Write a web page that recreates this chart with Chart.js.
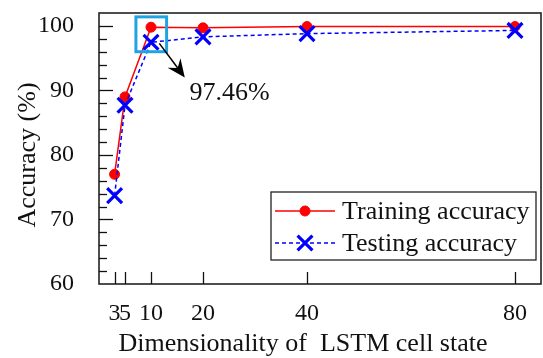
<!DOCTYPE html>
<html>
<head>
<meta charset="utf-8">
<script src="https://cdn.jsdelivr.net/npm/chart.js@4.4.1/dist/chart.umd.min.js"></script>
<style>
  html, body { margin: 0; padding: 0; background: #fff; }
  #wrap { width: 543px; height: 358px; }
</style>
</head>
<body>
<div id="wrap"><canvas id="acc"></canvas></div>
<script>
// LSTM cell state size vs. accuracy
const cellDims = [3, 5, 10, 20, 40, 80];
const trainAcc = [77.0, 89.0, 99.8, 99.7, 99.9, 99.9];
const testAcc = [73.7, 87.7, 97.46, 98.3, 98.8, 99.3];
const xTickValues = [3, 5, 10, 20, 40, 80];
const yTickValues = [60, 70, 80, 90, 100];
const highlightLabel = "97.46%";
const xTitle = "Dimensionality of  LSTM cell state";
const yTitle = "Accuracy (%)";

const serif = "'Liberation Serif', 'Times New Roman', serif";
const ink = "#111";

function points(xs, ys) {
  return xs.map((x, i) => ({ x: x, y: ys[i] }));
}

// frame, inward ticks, axis titles, highlight box + arrow, legend
const decorations = {
  id: "decorations",
  afterDatasetsDraw(chart) {
    const ctx = chart.ctx;
    const a = chart.chartArea;
    const xs = chart.scales.x;
    const ys = chart.scales.y;
    ctx.save();

    // frame
    ctx.strokeStyle = "#222";
    ctx.lineWidth = 1.6;
    ctx.strokeRect(a.left, a.top, a.right - a.left, a.bottom - a.top);

    // y ticks, major every 10 and minor every 2
    ctx.strokeStyle = ink;
    ctx.lineWidth = 1.3;
    for (let v = 62; v <= 100; v += 2) {
      const py = Math.round(ys.getPixelForValue(v)) + 0.5;
      const len = v % 10 === 0 ? 14 : 8;
      ctx.beginPath();
      ctx.moveTo(a.left, py);
      ctx.lineTo(a.left + len, py);
      ctx.stroke();
    }
    // x ticks
    xTickValues.forEach((v) => {
      const px = Math.round(xs.getPixelForValue(v)) + 0.5;
      ctx.beginPath();
      ctx.moveTo(px, a.bottom);
      ctx.lineTo(px, a.bottom - 12);
      ctx.stroke();
    });

    // axis titles
    ctx.fillStyle = ink;
    ctx.font = "26px " + serif;
    ctx.textAlign = "center";
    ctx.textBaseline = "alphabetic";
    ctx.fillText(xTitle, 303, 351);
    ctx.save();
    ctx.translate(28, 155);
    ctx.rotate(-Math.PI / 2);
    ctx.textBaseline = "middle";
    ctx.fillText(yTitle, 0, 0);
    ctx.restore();

    // highlight box around the 10-cell point
    const bx0 = xs.getPixelForValue(7.1);
    const bx1 = xs.getPixelForValue(13.0);
    const by0 = ys.getPixelForValue(101.4);
    const by1 = ys.getPixelForValue(96.0);
    ctx.strokeStyle = "#1fa3e3";
    ctx.lineWidth = 3;
    ctx.strokeRect(bx0, by0, bx1 - bx0, by1 - by0);

    // arrow to the label
    const ax0 = xs.getPixelForValue(11.6);
    const ay0 = ys.getPixelForValue(97.3);
    const ax1 = xs.getPixelForValue(16.5);
    const ay1 = ys.getPixelForValue(92.0);
    const ang = Math.atan2(ay1 - ay0, ax1 - ax0);
    ctx.strokeStyle = "#000";
    ctx.fillStyle = "#000";
    ctx.lineWidth = 1.5;
    ctx.beginPath();
    ctx.moveTo(ax0, ay0);
    ctx.lineTo(ax1 - 10 * Math.cos(ang), ay1 - 10 * Math.sin(ang));
    ctx.stroke();
    ctx.save();
    ctx.translate(ax1, ay1);
    ctx.rotate(ang);
    ctx.beginPath();
    ctx.moveTo(0, 0);
    ctx.lineTo(-18, -8);
    ctx.lineTo(-12, 0);
    ctx.lineTo(-18, 8);
    ctx.closePath();
    ctx.fill();
    ctx.restore();

    ctx.font = "26px " + serif;
    ctx.fillStyle = ink;
    ctx.textAlign = "left";
    ctx.textBaseline = "alphabetic";
    ctx.fillText(highlightLabel, xs.getPixelForValue(17.4), ys.getPixelForValue(88.5));

    // legend
    const lx0 = 271, ly0 = 192, lx1 = 536, ly1 = 260;
    ctx.fillStyle = "#fff";
    ctx.fillRect(lx0, ly0, lx1 - lx0, ly1 - ly0);
    ctx.strokeStyle = "#222";
    ctx.lineWidth = 1.3;
    ctx.strokeRect(lx0, ly0, lx1 - lx0, ly1 - ly0);
    const rows = [211, 243];
    chart.data.datasets
      .slice()
      .sort((p, q) => p.legendRow - q.legendRow)
      .forEach((ds, i) => {
        const ry = rows[i];
        ctx.strokeStyle = ds.borderColor;
        ctx.lineWidth = ds.borderWidth;
        ctx.setLineDash(ds.borderDash || []);
        ctx.beginPath();
        ctx.moveTo(275, ry);
        ctx.lineTo(335, ry);
        ctx.stroke();
        ctx.setLineDash([]);
        ctx.fillStyle = ds.pointBackgroundColor;
        ctx.strokeStyle = ds.pointBorderColor;
        ctx.lineWidth = ds.pointBorderWidth;
        Chart.helpers.drawPoint(ctx, {
          pointStyle: ds.pointStyle,
          radius: ds.pointRadius,
          borderWidth: ds.pointBorderWidth,
        }, 305, ry);
        ctx.fillStyle = ink;
        ctx.font = "26px " + serif;
        ctx.textBaseline = "middle";
        ctx.fillText(ds.label, 342, ry + 1);
      });
    ctx.restore();
  },
};

new Chart(document.getElementById("acc"), {
  type: "line",
  data: {
    datasets: [
      {
        label: "Testing accuracy",
        legendRow: 1,
        data: points(cellDims, testAcc),
        borderColor: "#0000ff",
        backgroundColor: "#0000ff",
        borderWidth: 1.5,
        borderDash: [4, 3],
        pointStyle: "crossRot",
        pointRadius: 10.5,
        pointBorderWidth: 3.2,
        pointBorderColor: "#0000ff",
        pointBackgroundColor: "#0000ff",
        order: 0,
      },
      {
        label: "Training accuracy",
        legendRow: 0,
        data: points(cellDims, trainAcc),
        borderColor: "#ff0000",
        backgroundColor: "#ff0000",
        borderWidth: 1.5,
        pointStyle: "circle",
        pointRadius: 5,
        pointBorderWidth: 1,
        pointBorderColor: "#ff0000",
        pointBackgroundColor: "#ff0000",
        order: 1,
      },
    ],
  },
  options: {
    responsive: true,
    maintainAspectRatio: false,
    animation: false,
    layout: {
      autoPadding: false,
      padding: { top: 13, right: 2, left: 0, bottom: 0 },
    },
    plugins: {
      legend: { display: false },
      tooltip: { enabled: false },
    },
    scales: {
      x: {
        type: "linear",
        min: 0,
        max: 85,
        afterBuildTicks: (scale) => {
          scale.ticks = xTickValues.map((v) => ({ value: v }));
        },
        afterFit: (scale) => {
          scale.height = 74;
          scale.paddingLeft = 0;
          scale.paddingRight = 0;
        },
        grid: { display: false },
        border: { display: false },
        ticks: {
          autoSkip: false,
          maxRotation: 0,
          padding: 7,
          color: ink,
          font: { family: serif, size: 24 },
        },
      },
      y: {
        min: 60,
        max: 102,
        afterBuildTicks: (scale) => {
          scale.ticks = yTickValues.map((v) => ({ value: v }));
        },
        afterFit: (scale) => {
          scale.width = 99;
          scale.paddingTop = 0;
          scale.paddingBottom = 0;
        },
        grid: { display: false },
        border: { display: false },
        ticks: {
          padding: 17,
          color: ink,
          font: { family: serif, size: 24 },
        },
      },
    },
  },
  plugins: [decorations],
});
</script>
</body>
</html>
